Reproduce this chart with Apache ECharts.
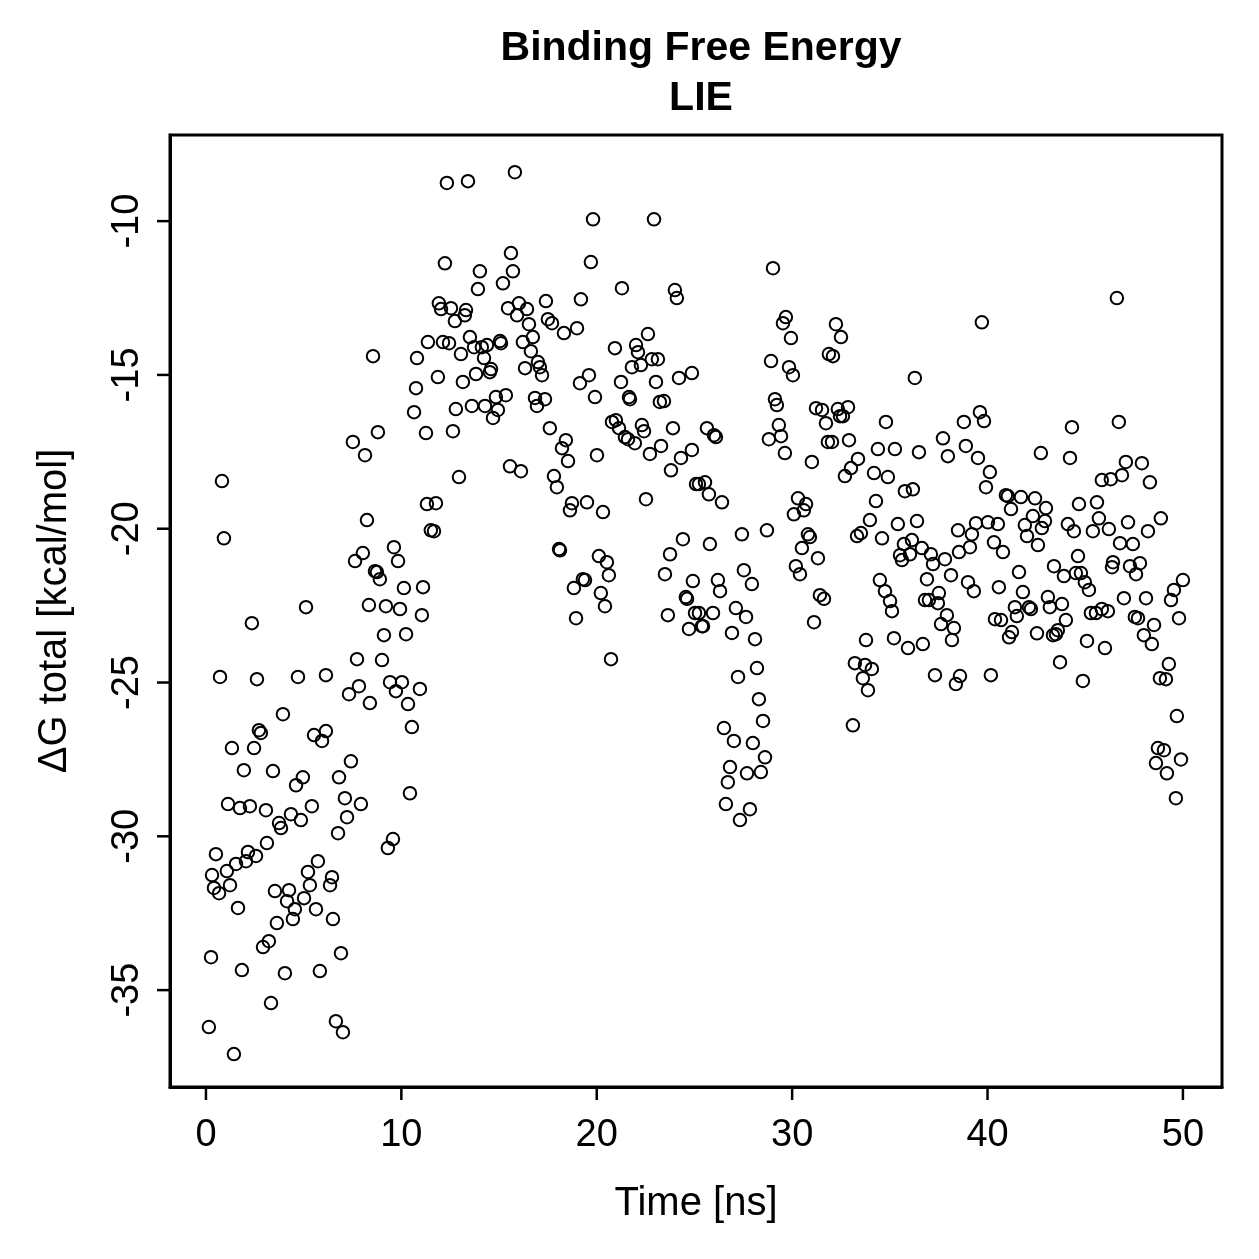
<!DOCTYPE html>
<html>
<head>
<meta charset="utf-8">
<script src="https://cdn.jsdelivr.net/npm/echarts@6/dist/echarts.min.js"></script>
<style>
  html, body { margin: 0; padding: 0; background: #fff; }
  #chart { width: 1259px; height: 1259px; }
</style>
</head>
<body>
<div id="chart"></div>
<script>
const xTicks = [0, 10, 20, 30, 40, 50];
const yTicks = [-35, -30, -25, -20, -15, -10];

// time of each frame, ns
const timeNs = [
  0.15,0.26,0.31,0.41,0.51,0.67,0.72,0.82,0.92,1.07,
  1.13,1.23,1.33,1.43,1.54,1.64,1.74,1.84,1.94,2.05,
  2.15,2.25,2.35,2.46,2.56,2.61,2.71,2.81,2.92,3.07,
  3.12,3.22,3.33,3.43,3.53,3.63,3.74,3.84,3.94,4.04,
  4.15,4.25,4.35,4.45,4.55,4.61,4.71,4.86,4.96,5.02,
  5.12,5.22,5.32,5.42,5.53,5.63,5.73,5.83,5.94,6.14,
  6.14,6.35,6.45,6.50,6.65,6.76,6.81,6.91,7.01,7.11,
  7.22,7.32,7.42,7.52,7.63,7.73,7.83,7.93,8.03,8.14,
  8.24,8.34,8.39,8.55,8.65,8.75,8.80,8.90,9.01,9.11,
  9.21,9.31,9.42,9.57,9.62,9.72,9.83,9.93,10.03,10.13,
  10.24,10.34,10.44,10.54,10.65,10.75,10.80,10.95,11.05,11.11,
  11.26,11.31,11.36,11.51,11.67,
  11.77,11.87,11.92,12.03,12.13,12.23,12.33,12.44,12.54,12.64,
  12.74,12.79,12.95,13.05,13.15,13.25,13.31,13.41,13.51,13.61,
  13.72,13.82,13.92,14.02,14.12,14.23,14.28,14.38,14.53,14.59,
  14.69,14.84,14.94,15.05,15.10,15.20,15.35,15.46,15.56,15.61,
  15.71,15.81,15.92,16.02,16.12,16.22,16.33,16.43,16.53,16.63,
  16.73,16.84,16.94,16.99,17.09,17.20,17.35,17.40,17.50,17.60,
  17.71,17.81,17.96,18.07,18.12,18.22,18.32,18.42,18.53,18.63,
  18.73,18.83,18.94,18.99,19.14,19.19,19.29,19.40,19.50,19.60,
  19.70,19.81,19.91,20.01,20.11,20.21,20.32,20.42,20.52,20.62,
  20.73,20.78,20.93,20.98,21.14,21.24,21.29,21.44,21.60,21.65,
  21.70,21.80,21.95,22.01,22.11,22.26,22.31,22.42,22.52,22.62,
  22.72,22.82,22.93,23.03,23.13,23.23,23.29,23.44,23.49,23.64,
  23.75,23.80,23.90,24.00,24.10,24.21,24.31,24.41,24.56,24.62,
  24.72,24.87,24.87,24.92,25.03,25.08,25.23,25.23,25.38,25.44,
  25.54,25.64,25.74,25.79,25.95,26.00,26.10,26.20,26.31,26.41,
  26.51,26.61,26.71,26.82,26.92,27.02,27.12,27.23,27.33,27.43,
  27.53,27.64,27.69,27.84,27.94,27.99,28.10,28.20,28.30,28.40,
  28.51,28.61,28.71,28.81,28.92,29.02,29.12,29.22,29.32,29.43,
  29.53,29.63,29.68,29.84,29.94,30.04,30.09,30.19,30.30,30.40,
  30.50,30.60,30.71,30.81,30.91,31.01,31.12,31.22,31.32,31.42,
  31.53,31.63,31.73,31.83,31.88,32.04,32.09,32.24,32.34,32.45,
  32.50,32.60,32.70,32.86,32.91,33.01,33.11,33.21,33.32,33.37,
  33.52,33.62,33.73,33.78,33.88,33.98,34.08,34.19,34.29,34.39,
  34.49,34.60,34.75,34.80,34.90,35.01,35.11,35.21,35.26,35.41,
  35.52,35.62,35.72,35.77,35.93,36.03,36.13,36.18,36.28,36.39,
  36.49,36.64,36.69,36.80,36.90,37.00,37.10,37.21,37.31,37.46,
  37.51,37.62,37.72,37.82,37.92,37.97,38.13,38.18,38.28,38.38,
  38.49,38.54,38.59,38.79,38.89,39.00,39.10,39.20,39.30,39.41,
  39.51,39.61,39.71,39.82,39.92,40.02,40.12,40.17,40.33,40.38,
  40.53,40.58,40.69,40.79,40.94,41.04,41.10,41.20,41.25,41.40,
  41.50,41.61,41.71,41.81,41.91,42.02,42.12,42.22,42.32,42.43,
  42.53,42.58,42.73,42.78,42.94,42.99,43.09,43.19,43.35,43.40,
  43.50,43.60,43.71,43.81,43.91,44.01,44.11,44.22,44.32,44.42,
  44.52,44.63,44.68,44.78,44.88,44.98,45.09,45.19,45.29,45.39,
  45.55,45.60,45.70,45.85,45.85,46.01,46.16,46.21,46.31,46.37,
  46.42,46.62,46.72,46.78,46.88,46.98,47.08,47.19,47.29,47.44,
  47.54,47.60,47.70,47.80,47.90,48.00,48.11,48.21,48.31,48.41,
  48.52,48.62,48.72,48.82,48.87,49.03,49.13,49.18,49.28,49.39,
  49.54,49.64,49.69,49.80,49.90,50.00
];

// ΔG total, kcal/mol
const deltaG = [
  -36.20,-33.93,-31.26,-31.68,-30.58,-31.85,-24.82,-18.45,-20.31,-31.13,
  -28.95,-31.59,-27.13,-37.08,-30.90,-32.33,-29.08,-34.35,-27.85,-30.81,
  -30.51,-29.02,-23.07,-27.13,-30.64,-24.89,-26.55,-26.64,-33.60,-29.15,
  -30.22,-33.41,-35.42,-27.88,-31.78,-32.82,-29.57,-29.73,-26.03,-34.45,
  -32.11,-31.75,-29.28,-32.69,-32.37,-28.34,-24.82,-29.47,-28.08,-32.01,
  -22.55,-31.16,-31.59,-29.02,-26.71,-32.37,-30.81,-34.38,-26.90,-26.58,
  -24.76,-31.59,-31.33,-32.69,-36.01,-29.90,-28.08,-33.80,-36.37,-28.76,
  -29.38,-25.38,-27.56,-17.18,-21.05,-24.24,-25.12,-28.95,-20.79,-17.61,
  -19.72,-22.48,-25.67,-14.39,-21.38,-21.41,-16.86,-21.64,-24.27,-23.46,
  -22.52,-30.38,-24.99,-30.09,-20.60,-25.28,-21.05,-22.61,-24.99,-21.93,
  -23.43,-25.70,-28.60,-26.45,-16.21,-15.43,-14.45,-25.21,-22.81,-21.90,
  -16.89,-19.20,-13.93,-20.05,-20.08,
  -19.17,-15.07,-12.67,-12.86,-13.93,-11.37,-8.76,-13.97,-12.83,-16.83,
  -13.25,-16.11,-18.32,-14.32,-15.23,-13.06,-12.89,-8.70,-13.77,-16.01,
  -14.10,-14.97,-12.21,-11.63,-14.10,-14.45,-16.01,-14.03,-14.91,-14.81,
  -16.40,-15.72,-16.14,-13.90,-13.97,-12.02,-15.66,-12.83,-17.97,-11.04,
  -11.63,-8.41,-13.06,-12.67,-18.13,-13.93,-14.78,-12.86,-13.35,-14.23,
  -13.77,-15.75,-16.01,-14.58,-14.75,-15.01,-15.79,-12.60,-13.19,-16.73,
  -13.32,-18.29,-18.65,-20.66,-20.70,-17.38,-13.64,-17.12,-17.80,-19.40,
  -19.17,-21.93,-22.91,-13.48,-15.27,-12.54,-21.64,-21.67,-19.14,-15.01,
  -11.33,-9.94,-15.72,-17.61,-20.89,-22.09,-19.46,-22.52,-21.09,-21.51,
  -24.24,-16.53,-14.13,-16.47,-16.73,-15.23,-12.18,-17.02,-17.09,-15.72,
  -15.79,-14.75,-17.22,-14.03,-14.26,-14.68,-16.63,-16.83,-19.04,-13.67,
  -17.57,-14.49,-9.94,-15.23,-14.49,-15.88,-17.31,-15.85,-21.48,-22.81,
  -20.83,-18.10,-16.73,-12.24,-12.50,-15.10,-17.70,-20.34,-22.22,-22.28,
  -23.26,-14.94,-17.44,-21.70,-22.74,-18.55,-18.55,-22.74,-23.17,-23.17,
  -18.49,-16.73,-18.88,-20.50,-22.74,-16.96,-17.02,-21.67,-22.03,-19.14,
  -26.48,-28.95,-28.24,-27.75,-23.39,-26.90,-22.58,-24.82,-29.47,-20.18,
  -21.35,-22.87,-27.95,-29.12,-21.80,-26.97,-23.59,-24.53,-25.54,-27.91,
  -26.25,-27.43,-20.05,-17.09,-14.55,-11.53,-15.79,-15.98,-16.63,-16.99,
  -13.32,-17.54,-13.12,-14.75,-13.80,-15.01,-19.53,-21.22,-19.01,-21.48,
  -20.63,-19.40,-19.20,-20.18,-20.27,-17.83,-23.04,-16.08,-20.96,-22.16,
  -16.14,-22.28,-16.57,-17.18,-14.32,-17.18,-14.39,-13.35,-16.11,-16.34,
  -13.77,-16.34,-18.29,-16.05,-17.12,-18.03,-26.39,-24.37,-20.24,-17.73,
  -20.14,-24.86,-24.43,-23.62,-25.25,-19.72,-24.56,-18.19,-19.10,-17.41,
  -21.67,-20.31,-22.03,-16.53,-18.32,-22.35,-22.68,-23.56,-17.41,-19.85,
  -20.86,-21.02,-20.50,-18.78,-23.88,-20.83,-20.37,-18.72,-15.10,-19.75,
  -17.51,-20.63,-23.75,-22.32,-21.64,-22.32,-20.83,-21.15,-24.76,-22.42,
  -22.09,-23.10,-17.06,-20.99,-22.81,-17.64,-21.51,-23.62,-23.23,-25.05,
  -20.05,-20.76,-24.79,-16.53,-17.31,-21.74,-20.60,-20.18,-22.03,-19.82,
  -17.70,-16.21,-13.29,-16.50,-18.65,-19.79,-18.16,-24.76,-20.44,-22.94,
  -19.85,-21.90,-22.97,-20.76,-18.91,-18.94,-23.53,-19.36,-23.36,-22.55,
  -22.84,-21.41,-18.97,-22.06,-19.88,-20.24,-22.55,-22.61,-19.59,-19.01,
  -23.40,-20.53,-17.54,-19.98,-19.75,-19.33,-22.22,-22.55,-23.46,-21.22,
  -23.43,-23.30,-24.34,-22.45,-21.54,-22.97,-19.85,-17.70,-16.70,-20.08,
  -21.44,-20.89,-19.20,-21.44,-24.95,-21.74,-23.65,-21.99,-22.74,-20.08,
  -22.74,-19.14,-19.66,-18.42,-22.61,-23.88,-22.68,-20.01,-18.39,-21.25,
  -21.09,-12.50,-16.53,-20.47,-18.26,-22.26,-17.83,-19.79,-21.22,-20.50,
  -22.87,-21.48,-22.91,-21.12,-17.87,-23.46,-22.26,-20.08,-18.49,-23.75,
  -23.13,-27.62,-27.13,-24.86,-19.66,-27.20,-24.89,-27.95,-24.40,-22.32,
  -21.99,-28.76,-26.09,-22.91,-27.50,-21.67
];

const FONT = "Liberation Sans";
const X_MIN = -1.84, X_MAX = 52.0;
const Y_MIN = -38.15, Y_MAX = -7.2;
const TICK_LEN = 13;
const TICK_W = 2.5;

const chart = echarts.init(document.getElementById("chart"), null, { renderer: "canvas" });

// outward R-style tick drawn as the first (x) or last (y, rotated) line of each label
const tickRich = {
  tk: {
    width: TICK_W,
    height: TICK_LEN,
    lineHeight: TICK_LEN,
    fontSize: 1,
    backgroundColor: "#000",
  },
};

const option = {
  backgroundColor: "#fff",
  animation: false,
  title: {
    text: "Binding Free Energy\nLIE",
    left: 696,
    top: 19,
    textAlign: "center",
    textStyle: {
      fontFamily: FONT,
      fontWeight: "bold",
      fontSize: 41,
      lineHeight: 50,
      color: "#000",
    },
  },
  grid: {
    left: 170,
    right: 37,
    top: 135,
    bottom: 172,
    show: true,
    borderColor: "#000",
    borderWidth: 3,
    backgroundColor: "transparent",
  },
  xAxis: {
    type: "value",
    min: X_MIN,
    max: X_MAX,
    name: "Time [ns]",
    nameLocation: "middle",
    nameGap: 97,
    nameTextStyle: { fontFamily: FONT, fontSize: 40, color: "#000" },
    axisLine: { show: true, onZero: false, lineStyle: { color: "#000", width: 3 } },
    splitLine: { show: false },
    axisTick: { show: false },
    axisLabel: {
      customValues: xTicks,
      margin: 0,
      formatter: (v) => `{tk| }\n{v|${v}}`,
      rich: {
        ...tickRich,
        v: { fontFamily: FONT, fontSize: 38, lineHeight: 72, color: "#000" },
      },
    },
  },
  yAxis: {
    type: "value",
    min: Y_MIN,
    max: Y_MAX,
    name: "ΔG total [kcal/mol]",
    nameLocation: "middle",
    nameRotate: 90,
    nameGap: 95,
    nameTextStyle: { fontFamily: FONT, fontSize: 40, color: "#000" },
    axisLine: { show: true, onZero: false, lineStyle: { color: "#000", width: 3 } },
    splitLine: { show: false },
    axisTick: { show: false },
    axisLabel: {
      customValues: yTicks,
      rotate: 90,
      margin: 0,
      formatter: (v) => `{v|${v}}\n{tk| }`,
      rich: {
        ...tickRich,
        v: { fontFamily: FONT, fontSize: 38, lineHeight: 58, color: "#000" },
      },
    },
  },
  series: [
    {
      type: "scatter",
      symbol: "circle",
      symbolSize: 12.5,
      data: timeNs.map((t, i) => [t, deltaG[i]]),
      itemStyle: {
        color: "transparent",
        borderColor: "#000",
        borderWidth: 2,
        opacity: 1,
      },
      emphasis: { disabled: true },
    },
  ],
};

chart.setOption(option);
</script>
</body>
</html>
